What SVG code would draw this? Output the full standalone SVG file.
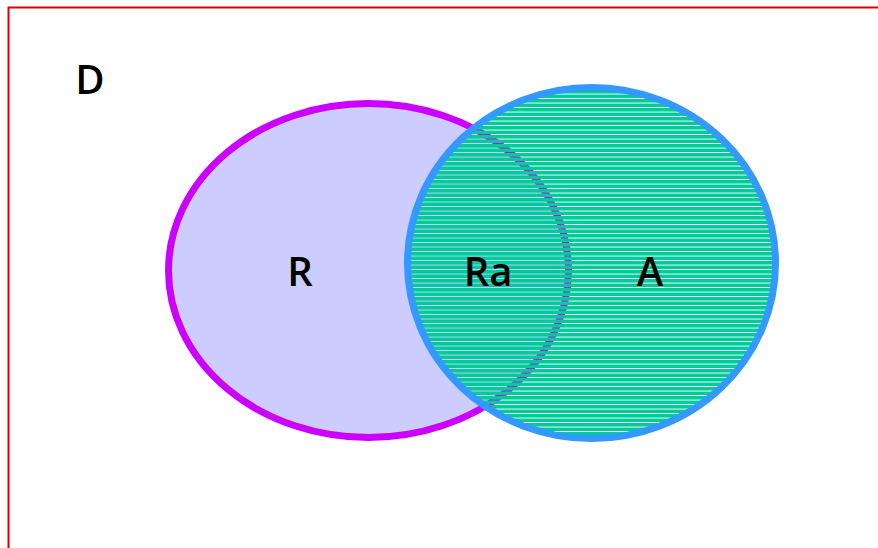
<svg xmlns="http://www.w3.org/2000/svg" width="878" height="548" viewBox="0 0 878 548">
<style>
.lbl{font-family:"Open Sans","Noto Sans","DejaVu Sans",sans-serif;font-size:40px;font-weight:600;fill:#000;text-anchor:middle}
</style>
<defs>
<pattern id="stripes" patternUnits="userSpaceOnUse" x="0" y="0" width="10" height="4.5">
<rect x="0" y="0" width="10" height="3.6" fill="#00cc99" shape-rendering="crispEdges"/>
</pattern>
</defs>
<rect x="0" y="0" width="878" height="548" fill="#ffffff"/>
<rect id="frame" x="8.5" y="7.5" width="900" height="560" fill="none" stroke="#dd0000" stroke-width="2"/>
<g id="D"><text class="lbl" x="90" y="94">D</text></g>
<g id="R">
<ellipse cx="368.5" cy="270.5" rx="200" ry="167" fill="#ccccff" stroke="#cc00ff" stroke-width="7"/>
<text class="lbl" x="300" y="286">R</text>
</g>
<g id="A">
<ellipse cx="591.5" cy="263" rx="184" ry="175.5" fill="url(#stripes)" stroke="#3399ff" stroke-width="7"/>
<text class="lbl" x="650" y="286">A</text>
</g>
<g id="Ra"><text class="lbl" x="488" y="286">Ra</text></g>
<g id="connectors"/>
</svg>
